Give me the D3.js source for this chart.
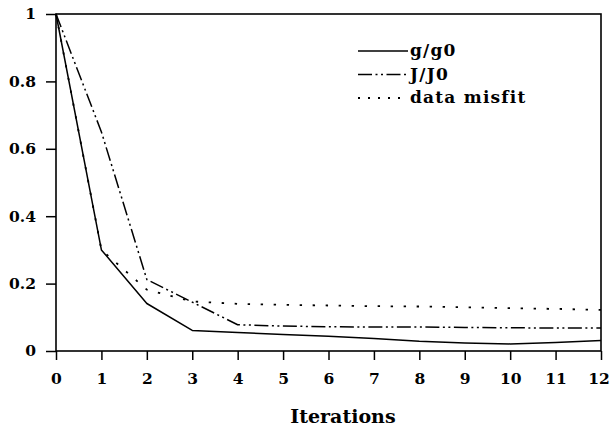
<!DOCTYPE html>
<html>
<head>
<meta charset="utf-8">
<script src="https://cdn.jsdelivr.net/npm/d3@7"></script>
<style>
  html, body { margin: 0; padding: 0; background: #fff; }
  svg text { font-family: "DejaVu Serif", "Liberation Serif", serif; font-weight: bold; fill: #000; }
</style>
</head>
<body>
<svg id="chart" width="611" height="426"></svg>
<script>
const iterations = [0, 1, 2, 3, 4, 5, 6, 7, 8, 9, 10, 11, 12];
const gRatio   = [1, 0.30, 0.141, 0.061, 0.055, 0.049, 0.044, 0.037, 0.029, 0.024, 0.021, 0.025, 0.031];
const jRatio   = [1, 0.65, 0.212, 0.145, 0.078, 0.074, 0.072, 0.071, 0.071, 0.070, 0.069, 0.068, 0.068];
const misfit   = [1, 0.30, 0.182, 0.147, 0.140, 0.137, 0.135, 0.133, 0.132, 0.130, 0.127, 0.125, 0.122];
const xTicks = [0, 1, 2, 3, 4, 5, 6, 7, 8, 9, 10, 11, 12];
const yTicks = [0, 0.2, 0.4, 0.6, 0.8, 1];
const yTickLabels = ["0", "0.2", "0.4", "0.6", "0.8", "1"];
const seriesNames = ["g/g0", "J/J0", "data misfit"];
const xTitle = "Iterations";

const svg = d3.select("#chart");
const L = 56, R = 601, T = 14, B = 351;
const x = d3.scaleLinear().domain([0, 12]).range([L, R]);
const y = d3.scaleLinear().domain([0, 1]).range([B, T]);

const dashes = [null, "14,3.5,2,3.5,2,3.5", "2.4,10.6"];
const series = [gRatio, jRatio, misfit];

// frame
svg.append("rect")
  .attr("x", L).attr("y", T).attr("width", R - L).attr("height", B - T)
  .attr("fill", "none").attr("stroke", "#000").attr("stroke-width", 1.6);

// axes
const xAxis = svg.append("g").attr("transform", `translate(0,${B})`)
  .call(d3.axisBottom(x).tickValues(xTicks).tickSize(9).tickPadding(13).tickFormat(d3.format("d")));
xAxis.select(".domain").remove();
xAxis.selectAll("line").attr("stroke", "#000").attr("stroke-width", 1.5);
xAxis.selectAll("text").attr("font-size", 15.5).style("font-family", "DejaVu Serif").style("font-weight", "bold");
xAxis.selectAll(".tick").filter(d => d === 12).select("text").attr("dx", -2.5);

const yAxis = svg.append("g").attr("transform", `translate(${L},0)`)
  .call(d3.axisLeft(y).tickValues(yTicks).tickSize(10).tickPadding(10)
    .tickFormat((d, i) => yTickLabels[i]));
yAxis.select(".domain").remove();
yAxis.selectAll("line").attr("stroke", "#000").attr("stroke-width", 1.5);
yAxis.selectAll("text").attr("font-size", 15.5).style("font-family", "DejaVu Serif").style("font-weight", "bold");

// lines
const line = d3.line().x((d, i) => x(iterations[i])).y(d => y(d));
series.forEach((s, k) => {
  svg.append("path").datum(s)
    .attr("d", line)
    .attr("fill", "none")
    .attr("stroke", "#000")
    .attr("stroke-width", k === 2 ? 1.8 : 1.5)
    .attr("stroke-linejoin", "round")
    .attr("stroke-dasharray", dashes[k]);
});

// legend
const legX0 = 358, legX1 = 408, legY0 = 51, legDy = 23.5;
seriesNames.forEach((name, k) => {
  const yy = legY0 + k * legDy;
  svg.append("line").attr("x1", legX0).attr("x2", legX1).attr("y1", yy).attr("y2", yy)
    .attr("stroke", "#000").attr("stroke-width", k === 2 ? 1.8 : 1.5)
    .attr("stroke-dasharray", k === 2 ? "2,8" : dashes[k]);
  svg.append("text").attr("x", legX1 + 2).attr("y", yy + 5)
    .attr("font-size", 17).attr("letter-spacing", 1.2).text(name);
});

// x title
svg.append("text").attr("x", 343).attr("y", 423).attr("text-anchor", "middle")
  .attr("font-size", 19).text(xTitle);
</script>
</body>
</html>
